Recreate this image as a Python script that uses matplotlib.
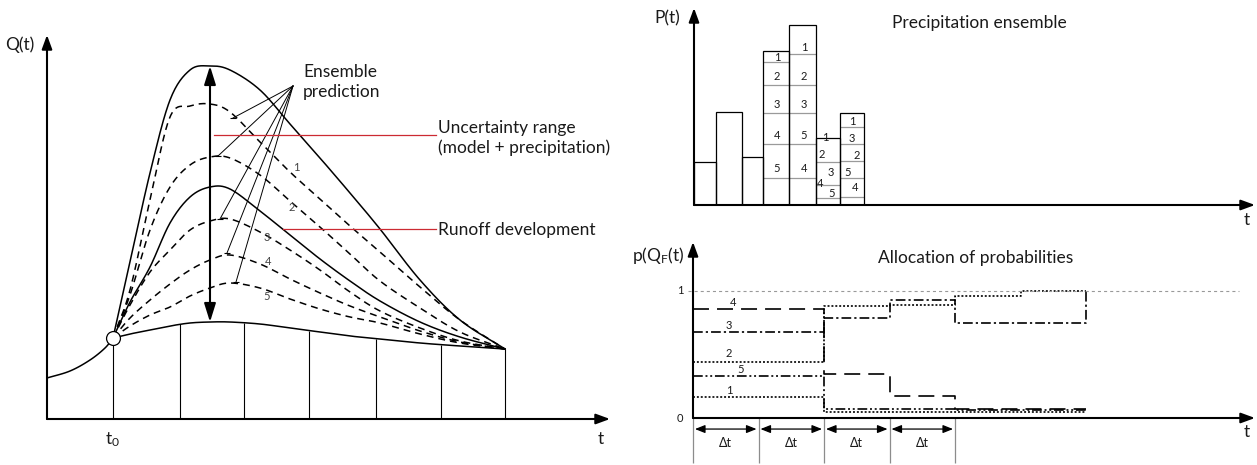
import numpy as np
import matplotlib
matplotlib.use('Agg')
import matplotlib.pyplot as plt


# Werte (Achsenursprung = 0, Einheiten ~ Pixel bzw. dt / p)

# --- Abflussganglinien Q(t) ---
t_grid = [66, 83, 103, 123, 143, 163, 183, 213, 243, 273, 303, 333, 373, 413, 458]
q_upper = [81, 157, 246, 319, 349, 353, 349, 329, 295, 261, 226, 190, 139, 99, 70]
q_ens1 = [81, 129, 219, 302, 313, 315, 307, 277, 247, 220, 193, 167, 132, 99, 70]
q_ens2 = [81, 124, 189, 232, 254, 262, 261, 244, 218, 192, 165, 138, 111, 87, 70]
q_mid = [81, 117, 152, 196, 222, 232, 230, 208, 184, 160, 138, 118, 97, 82, 70]
q_ens3 = [81, 114, 147, 169, 189, 198, 200, 187, 169, 149, 127, 108, 91, 78, 70]
q_ens4 = [81, 101, 119, 135, 149, 159, 164, 155, 140, 126, 113, 102, 88, 77, 70]
q_ens5 = [81, 93, 104, 112, 123, 131, 136, 131, 120, 110, 102, 96, 85, 76, 70]
q_base = [81, 85, 89, 93, 96, 97, 97, 95, 91, 87, 83, 80, 76, 73, 70]

t_past = [0, 23, 43, 58, 66]
q_past = [41, 48, 59, 71, 81]

t_steps = [66, 133, 197, 262, 329, 394, 458]

ens_labels = ['1', '2', '3', '4', '5']
ens_label_t = [249, 245, 220, 221, 220]
ens_label_q = [252, 212, 182, 158, 123]

ptr_from = (246, 333)
ptr_t = [186, 171, 173, 180, 189]
ptr_q = [301, 263, 200, 166, 137]

red_q = [284, 190]
red_t0 = [167, 236]
red_t1 = 389

# --- Niederschlagsensemble P(t) ---
bar_edges = [0, 22, 48, 69, 95, 122, 146, 170]
bar_heights = [43, 93, 48, 154, 180, 67, 92]
bar_splits = {3: [143, 120, 92, 61, 27],
              4: [151, 120, 92, 61, 27],
              5: [43, 20, 7],
              6: [78, 61, 44, 27, 8]}
bar_members = {3: ['1', '2', '3', '4', '5'],
               4: ['1', '2', '3', '5', '4'],
               5: ['1', '2', '3', '4', '5'],
               6: ['1', '3', '2', '5', '4']}
bar_label_t = {3: [83, 83, 83, 83, 83],
               4: [110, 110, 110, 110, 110],
               5: [131, 128, 137, 126, 138],
               6: [158, 158, 163, 154, 161]}
bar_label_p = {3: [148, 129, 101, 70, 37],
               4: [158, 129, 101, 70, 37],
               5: [68, 51, 33, 22, 12],
               6: [84, 67, 50, 33, 18]}

# --- Wahrscheinlichkeiten p(Q_F(t)) ---
dt_bounds = [0, 1, 2, 3, 4, 5, 6]
p_members = ['1', '2', '3', '4', '5']
p_levels = {'1': [0.165, 0.165, 0.047, 0.047, 0.047, 0.047],
            '2': [0.441, 0.441, 0.882, 0.890, 0.961, 1.0],
            '3': [0.677, 0.677, 0.787, 0.929, 0.748, 0.748],
            '4': [0.858, 0.858, 0.346, 0.173, 0.07, 0.07],
            '5': [0.331, 0.331, 0.07, 0.07, 0.06, 0.06]}
p_label_x = [0.55, 0.55, 0.55, 0.61, 0.72]
p_label_y = [0.22, 0.504, 0.732, 0.913, 0.378]


def smooth(x, y, n=24):
    x = np.asarray(x, float)
    y = np.asarray(y, float)
    px = np.concatenate([[2 * x[0] - x[1]], x, [2 * x[-1] - x[-2]]])
    py = np.concatenate([[2 * y[0] - y[1]], y, [2 * y[-1] - y[-2]]])
    s = np.linspace(0, 1, n, endpoint=False)
    ox, oy = [], []
    for i in range(1, len(px) - 2):
        for p, o in ((px, ox), (py, oy)):
            p0, p1, p2, p3 = p[i - 1], p[i], p[i + 1], p[i + 2]
            o.extend(0.5 * (2 * p1 + (-p0 + p2) * s + (2 * p0 - 5 * p1 + 4 * p2 - p3) * s ** 2
                            + (-p0 + 3 * p1 - 3 * p2 + p3) * s ** 3))
    ox.append(x[-1])
    oy.append(y[-1])
    return np.array(ox), np.array(oy)


plt.rcParams['font.family'] = ['Lato', 'DejaVu Sans']
plt.rcParams['mathtext.default'] = 'regular'
plt.rcParams['lines.scale_dashes'] = False

W, H = 1257, 465
TXT = '#1a1a1a'
RED = '#cc2a32'
BIG = 12.5
SMALL = 8

fig = plt.figure(figsize=(W / 100, H / 100), dpi=100)


def place(x0, y_axis, x1, y_top):
    return [x0 / W, (H - y_axis) / H, (x1 - x0) / W, (y_axis - y_top) / H]


def axis_arrows(ax, xmax, ymax):
    for tip in [(xmax, 0), (0, ymax)]:
        ax.annotate('', xy=tip, xytext=(0, 0), annotation_clip=False,
                    arrowprops=dict(arrowstyle='-|>,head_length=0.6,head_width=0.22',
                                    mutation_scale=14, lw=1.5, color='k',
                                    shrinkA=0, shrinkB=0))


# ---------------- links: Q(t) ----------------
ax = fig.add_axes(place(47, 419, 610, 35))
ax.set_xlim(0, 563)
ax.set_ylim(0, 384)
ax.axis('off')
axis_arrows(ax, 563, 384)

dash = (0, (5, 3.6))
curves = [(q_upper, '-'), (q_ens1, dash), (q_ens2, dash), (q_mid, '-'),
          (q_ens3, dash), (q_ens4, dash), (q_ens5, dash), (q_base, '-')]
for q, ls in curves:
    sx, sy = smooth(t_grid, q)
    ax.plot(sx, sy, color='k', lw=1.1, ls=ls, clip_on=False)

sx, sy = smooth(t_past, q_past)
ax.plot(sx, sy, color='k', lw=1.1)

bx, by = smooth(t_grid, q_base)
ax.vlines(t_steps, 0, np.interp(t_steps, bx, by), colors='k', lw=0.8)

ax.plot(t_grid[0], q_base[0], 'o', ms=10, mfc='white', mec='k', mew=0.9, zorder=5)

i_top = int(np.argmax(q_upper))
ax.annotate('', xy=(t_grid[i_top], max(q_upper)), xytext=(t_grid[i_top], max(q_base)),
            arrowprops=dict(arrowstyle='<|-|>,head_length=0.8,head_width=0.25',
                            mutation_scale=14, lw=1.5, color='k', shrinkA=0, shrinkB=0))

for tt, qq in zip(ptr_t, ptr_q):
    ax.plot([ptr_from[0], tt], [ptr_from[1], qq], color='k', lw=0.7)
    ax.plot(tt, qq, marker='_', ms=5, mew=0.8, color='k')

for q, t0 in zip(red_q, red_t0):
    ax.plot([t0, red_t1], [q, q], color=RED, lw=0.9)

for lab, tt, qq in zip(ens_labels, ens_label_t, ens_label_q):
    ax.text(tt, qq, lab, fontsize=SMALL, color='#444444', ha='center', va='center')

ax.text(256, 337, 'Ensemble\nprediction', fontsize=BIG, color=TXT, ha='left', va='center',
        linespacing=1.25)
ax.text(391, 281, 'Uncertainty range\n(model + precipitation)', fontsize=BIG, color=TXT,
        ha='left', va='center', linespacing=1.25)
ax.text(391, 189, 'Runoff development', fontsize=BIG, color=TXT, ha='left', va='center')
ax.text(-27, 374, 'Q(t)', fontsize=BIG, color=TXT, ha='center', va='center')
ax.text(554, -20, 't', fontsize=BIG, color=TXT, ha='center', va='center')
ax.text(66, -21, r't$_{0}$', fontsize=BIG, color=TXT, ha='center', va='center')

# ---------------- rechts oben: P(t) ----------------
axp = fig.add_axes(place(694, 205, 1255, 8))
axp.set_xlim(0, 561)
axp.set_ylim(0, 197)
axp.axis('off')

edges = np.array(bar_edges)
for i, lv in bar_splits.items():
    axp.hlines(lv, edges[i], edges[i + 1], colors='#9a9a9a', lw=0.9, zorder=1)
axp.bar(edges[:-1], bar_heights, width=np.diff(edges), align='edge', fill=False,
        edgecolor='k', lw=0.9, zorder=2)
for i, mem in bar_members.items():
    for lab, tt, pp in zip(mem, bar_label_t[i], bar_label_p[i]):
        axp.text(tt, pp, lab, fontsize=SMALL, color=TXT, ha='center', va='center', zorder=3)
axis_arrows(axp, 561, 197)

axp.text(-27, 187, 'P(t)', fontsize=BIG, color=TXT, ha='center', va='center')
axp.text(198, 182, 'Precipitation ensemble', fontsize=BIG, color=TXT, ha='left', va='center')
axp.text(553, -15, 't', fontsize=BIG, color=TXT, ha='center', va='center')

# ---------------- rechts unten: p(Q_F(t)) ----------------
axf = fig.add_axes(place(693, 418, 1255, 242))
axf.set_xlim(0, 562 / 65.5)
axf.set_ylim(0, 176 / 127)
axf.axis('off')

styles = {'1': (0, (1.4, 1.4)), '2': (0, (1.4, 1.4)), '3': (0, (7, 2.2, 1.6, 2.2)),
          '4': (0, (11.5, 5.8)), '5': (0, (7, 2, 1.4, 2, 1.4, 2))}
for m in p_members:
    xs = list(np.repeat(dt_bounds, 2)[1:-1])
    ys = list(np.repeat(p_levels[m], 2))
    if m == '3':
        xs.append(dt_bounds[-1])
        ys.append(1.0)
    axf.plot(xs, ys, color='k', lw=1.2, ls=styles[m], clip_on=False)

for lab, xx, yy in zip(p_members, p_label_x, p_label_y):
    axf.text(xx, yy, lab, fontsize=SMALL, color=TXT, ha='center', va='center')

axf.plot([-0.08, 8.34], [1, 1], color='#999999', lw=0.8, ls=(0, (2.2, 2.2)), clip_on=False)
axf.text(-0.2, 1.0, '1', fontsize=SMALL, color=TXT, ha='center', va='center')
axf.text(-0.2, 0.0, '0', fontsize=SMALL, color=TXT, ha='center', va='center')

axf.vlines(dt_bounds[:5], -0.354, 0, colors='#8c8c8c', lw=0.9, clip_on=False)
for k in dt_bounds[:4]:
    axf.annotate('', xy=(k + 0.97, -0.087), xytext=(k + 0.03, -0.087), annotation_clip=False,
                 arrowprops=dict(arrowstyle='<|-|>,head_length=0.5,head_width=0.2',
                                 mutation_scale=12, lw=0.9, color='k', shrinkA=0, shrinkB=0))
    axf.text(k + 0.5, -0.197, '\u0394t', fontsize=9, color=TXT, ha='center', va='center')
axis_arrows(axf, 562 / 65.5, 176 / 127)

axf.text(-0.53, 1.283, r'p(Q$_{F}$(t)', fontsize=BIG, color=TXT, ha='center', va='center')
axf.text(4.31, 1.26, 'Allocation of probabilities', fontsize=BIG, color=TXT,
         ha='center', va='center')
axf.text(8.46, -0.11, 't', fontsize=BIG, color=TXT, ha='center', va='center')

fig.savefig('out.png', dpi=100)
